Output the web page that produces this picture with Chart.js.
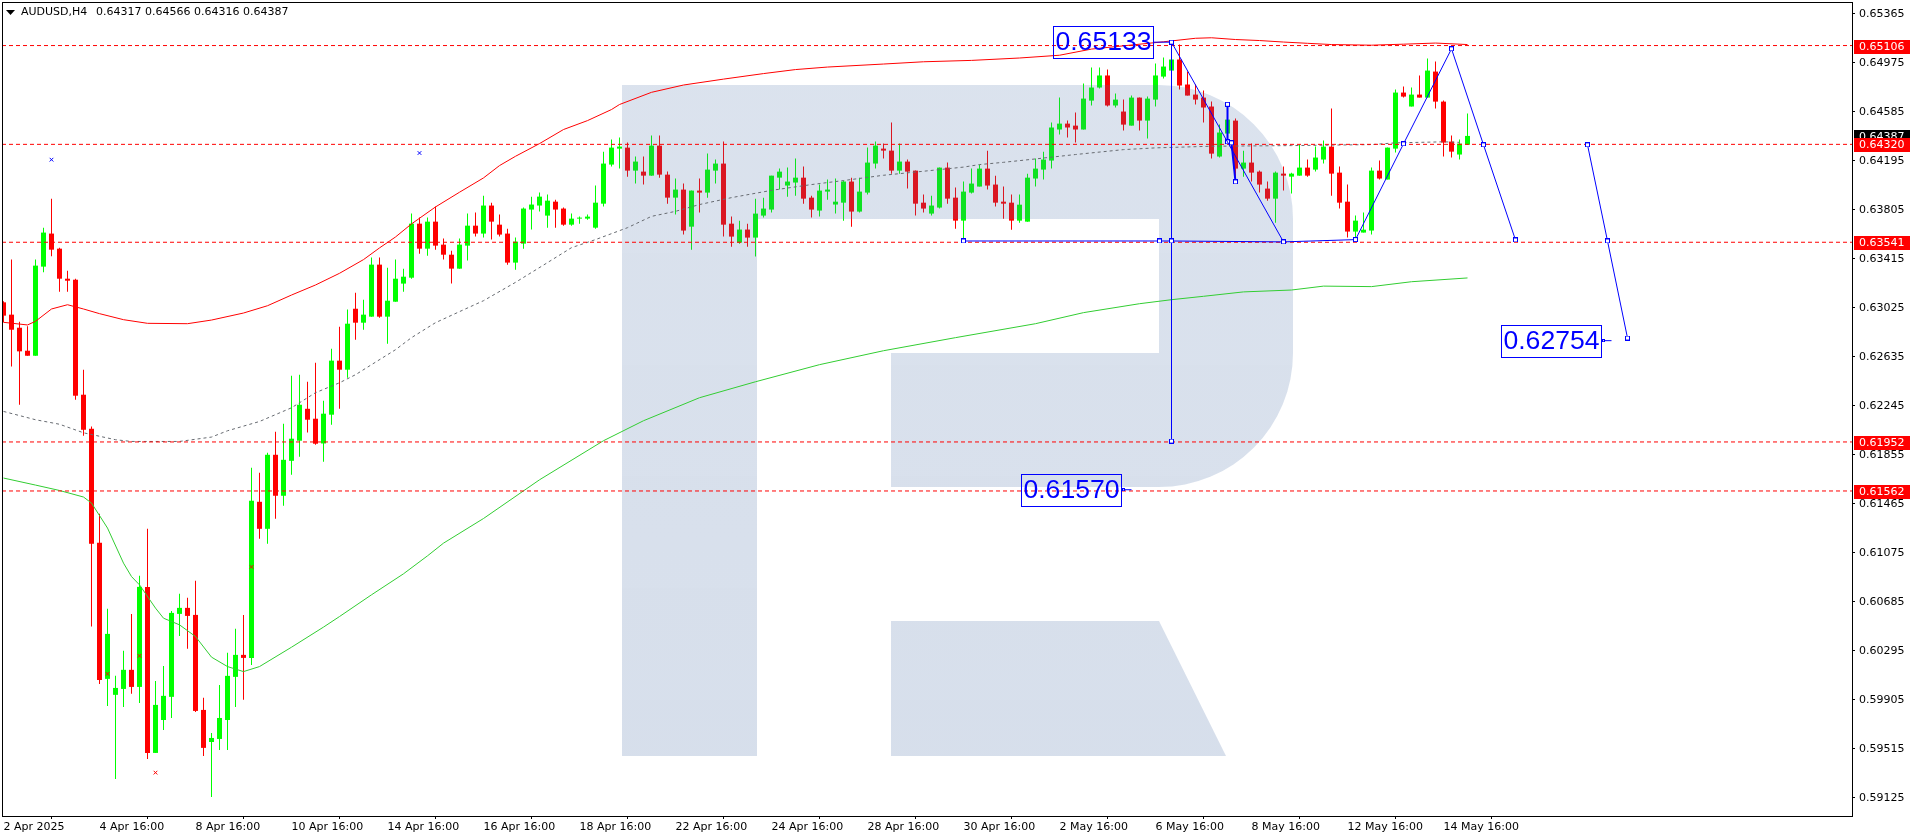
<!DOCTYPE html>
<html>
<head>
<meta charset="utf-8">
<title>AUDUSD,H4</title>
<style>
  html, body { margin: 0; padding: 0; background: #fff; overflow: hidden; }
  canvas { display: block; }
</style>
<script src="https://cdn.jsdelivr.net/npm/chart.js@4/dist/chart.umd.min.js"></script>
</head>
<body>
<canvas id="chart" width="1916" height="840"></canvas>
<script>
// all prices are in points (price * 100000), one bar every 4 hours
const opens = [
  63063,62965,62861,62678,62638,63347,63610,63490,63251,63243,
  62328,62057,61150,60067,59940,59987,60139,60003,60799,59478,
  59740,59924,60584,60632,60576,59820,59565,59589,59740,60083,
  60258,60234,61476,61261,61850,61524,61802,61962,62216,62137,
  61940,62169,62599,62527,63012,62901,62949,63363,62949,63068,
  63212,63259,63689,63490,63705,63522,63442,63331,63514,63673,
  63610,63833,63681,63610,63379,63530,63801,63833,63753,63864,
  63809,63681,63729,63729,63657,63848,64159,64286,64294,64111,
  64103,64071,64310,64079,63896,63960,63665,63952,63936,64111,
  64167,63689,63538,63642,63578,63753,63801,64055,63992,64016,
  64055,63896,63793,63944,63841,63856,64024,63785,63936,64167,
  64286,64270,64111,64183,64111,63856,63769,63817,64135,63896,
  63713,63936,63984,64127,64000,63864,63856,63713,63705,64048,
  64119,64191,64438,64485,64469,64438,64668,64772,64868,64629,
  64581,64469,64692,64509,64676,64859,64907,64995,64796,64716,
  64692,64621,64223,64406,64509,64127,64175,64103,63968,63888,
  64087,64063,64071,64135,64119,64199,64302,64095,63864,63626,
  63618,63634,64111,64040,64286,64732,64621,64716,64692,64899,
  64660,64342,64239,64317
];
const closes = [
  62957,62845,62673,62638,63355,63618,63482,63251,63235,62320,
  62049,61142,60059,60425,59995,60139,60003,60799,59478,59860,
  59932,60592,60632,60568,59812,59518,59597,59756,60091,60258,
  60234,61484,61261,61850,61524,61810,61978,62248,62129,61938,
  62177,62599,62527,62893,62901,62965,63363,62949,63076,63251,
  63267,63689,63490,63705,63514,63442,63331,63522,63673,63610,
  63833,63705,63602,63379,63546,63809,63841,63904,63872,63801,
  63681,63729,63737,63745,63856,64167,64294,64302,64111,64183,
  64071,64310,64079,63896,63960,63634,63952,63936,64119,64167,
  63681,63586,63642,63578,63769,63809,64071,64103,64024,64055,
  63888,63801,63952,63960,63864,64024,63785,63944,64175,64310,
  64270,64111,64183,64103,63848,63809,63833,64135,63888,63713,
  63944,64008,64127,63992,63856,63848,63713,63840,64055,64127,
  64199,64454,64485,64454,64438,64684,64772,64868,64629,64676,
  64477,64692,64509,64684,64868,64939,64995,64788,64708,64676,
  64613,64246,64414,64517,64127,64175,64095,64000,63888,64095,
  64071,64087,64135,64071,64215,64302,64087,63856,63626,63713,
  63641,64111,64048,64294,64732,64700,64716,64692,64907,64660,
  64334,64262,64326,64387
];
const highs = [
  63071,63403,62909,62872,63403,63657,63888,63498,63315,63251,
  62527,62076,61381,60624,60091,60290,60584,60887,61261,60051,
  60170,60608,60744,60712,60847,59916,59637,60019,60274,60465,
  60576,61747,61707,61866,62033,62097,62479,62487,62431,62583,
  62280,62694,62869,63005,63140,63084,63419,63419,63339,63403,
  63331,63769,63737,63737,63825,63570,63474,63570,63769,63777,
  63912,63856,63761,63649,63578,63817,63904,63936,63920,63880,
  63817,63769,63745,63761,63992,64262,64358,64374,64334,64223,
  64223,64390,64390,64103,64048,64008,63952,64048,64247,64199,
  64342,63745,63713,63689,63888,63896,64071,64127,64135,64207,
  64143,63912,64000,64040,64048,64032,64055,64055,64294,64342,
  64326,64493,64326,64199,64111,63920,63912,64135,64175,63976,
  64024,64127,64159,64270,64071,63984,63920,63920,64087,64207,
  64262,64493,64692,64509,64573,64804,64931,64931,64915,64724,
  64676,64708,64692,64700,64963,65011,65114,65114,64899,64796,
  64748,64660,64477,64597,64525,64270,64326,64111,64024,64103,
  64143,64095,64318,64199,64302,64350,64605,64143,64000,63753,
  63777,64135,64191,64294,64756,64780,64772,64868,65003,64979,
  64668,64390,64358,64566
];
const lows = [
  62904,62553,62248,62638,62638,63302,63429,63148,63148,62288,
  62001,60484,60027,59852,59271,59844,59948,59876,59430,59478,
  59661,59756,60409,60306,59804,59454,59128,59502,59502,59844,
  59900,60178,61181,61142,61341,61444,61691,61834,62028,61930,
  61794,62089,62216,62463,62766,62845,62949,62941,62734,63068,
  63148,63251,63450,63434,63482,63403,63212,63331,63395,63586,
  63578,63562,63586,63363,63323,63490,63642,63785,63657,63657,
  63673,63673,63689,63721,63649,63825,64143,64127,64063,64008,
  64000,64071,64055,63848,63761,63602,63482,63777,63896,64008,
  63586,63506,63530,63506,63427,63737,63777,63960,63904,63912,
  63848,63737,63745,63880,63769,63713,63665,63777,63920,64127,
  64207,64087,64087,63968,63753,63777,63753,63809,63848,63649,
  63562,63928,63984,63960,63825,63729,63641,63697,63705,63984,
  64040,64127,64398,64374,64334,64438,64629,64764,64621,64613,
  64430,64469,64430,64366,64621,64844,64907,64756,64708,64637,
  64493,64207,64215,64398,64048,64063,64024,63936,63872,63697,
  63952,63928,64071,64063,64103,64167,63912,63809,63578,63562,
  63618,63602,64040,64040,64255,64692,64621,64692,64692,64605,
  64223,64215,64199,64316
];

// moving averages, read at a bar every so often: [bar, price]
const redMa = [[0,62904],[3,62883],[4,62912],[6,63010],[8,63044],[10,63010],[12,62973],[15,62925],[18,62896],[23,62893],
  [26,62922],[30,62978],[33,63036],[36,63121],[39,63201],[42,63294],[45,63403],[47,63496],[49,63583],[51,63687],
  [54,63822],[57,63939],[60,64053],[62,64151],[64,64225],[67,64326],[70,64438],[73,64509],[76,64597],[77,64637],
  [81,64734],[85,64792],[90,64839],[95,64883],[99,64915],[103,64935],[110,64959],[115,64977],[121,64988],[127,65007],
  [132,65029],[136,65078],[140,65104],[145,65136],[149,65164],[151,65168],[154,65154],[157,65146],[160,65134],
  [163,65124],[166,65114],[171,65109],[175,65117],[179,65126],[183,65114]];
const greyMa = [[0,62195],[4,62129],[7,62093],[10,62025],[14,61970],[16,61956],[22,61956],[26,61991],[28,62041],[32,62115],
  [36,62224],[39,62344],[42,62423],[44,62487],[46,62567],[49,62686],[51,62782],[54,62901],[57,62989],[60,63076],
  [64,63222],[68,63379],[71,63498],[74,63562],[78,63657],[81,63747],[84,63787],[87,63841],[91,63896],[96,63954],
  [101,64000],[105,64032],[110,64074],[115,64106],[120,64139],[122,64159],[125,64177],[129,64204],[134,64239],
  [140,64278],[144,64292],[151,64305],[161,64310],[171,64318],[174,64332],[180,64340],[182,64336]];
const greenMa = [[0,61665],[4,61609],[7,61566],[10,61514],[11,61466],[13,61267],[15,60988],[16,60881],[17,60815],[19,60630],
  [20,60550],[22,60497],[24,60404],[26,60240],[28,60165],[30,60125],[32,60165],[36,60319],[40,60479],[42,60563],
  [46,60736],[50,60903],[53,61046],[55,61147],[60,61343],[67,61651],[75,61962],[80,62121],[87,62304],[94,62431],
  [102,62567],[110,62678],[119,62782],[129,62893],[135,62981],[142,63052],[146,63084],[150,63111],[155,63146],
  [161,63161],[165,63192],[171,63188],[176,63227],[183,63257]];

// horizontal levels and the hand drawn forecast
const levels = [65106, 64320, 63541, 61952, 61562];
const zigzag = [[146,65133],[160,63544],[169,63562],[175,64324],[181,65080],[185,64316],[189,63559]];
const forecast = [[198,64316],[200.5,63551],[203,62779]];
const baseLine = [[120,63551],[144.5,63551],[146,63551],[160,63544]];
const stick = [[146,65133],[146,61959]];
const smallStick = [[153,64639],[153,64340],[153.5,64332],[154,64021]];
const topConnector = [[143.7,65133],[146,65133]];
const labelConnectors = [
  [[200,62758],[201,62758]],
  [[140,61572],[141,61572]]
];
const blueCrosses = [[6,64198],[52,64251]];
const redCrosses = [[13,60107],[17,60250],[19,59321],[31,60958]];

const xTickBars = [0,12,24,36,48,60,72,84,96,108,120,132,144,156,168,180];
const xTickLabels = ["2 Apr 2025","4 Apr 16:00","8 Apr 16:00","10 Apr 16:00","14 Apr 16:00","16 Apr 16:00","18 Apr 16:00","22 Apr 16:00",
  "24 Apr 16:00","28 Apr 16:00","30 Apr 16:00","2 May 16:00","6 May 16:00","8 May 16:00","12 May 16:00","14 May 16:00"];
const yTicks = [65365,64975,64585,64195,63805,63415,63025,62635,62245,61855,61465,61075,60685,60295,59905,59515,59125];
const levelLabels = ["0.65106","0.64320","0.63541","0.61952","0.61562"];

const RED = "#ff0000", GREEN = "#00ff00", BLUE = "#0000ff";
const FONT = "DejaVu Sans";
const pts = arr => arr.map(p => ({ x: p[0], y: p[1] }));
const colors = opens.map((o, i) => (closes[i] >= o ? GREEN : RED));

// hollow square used for the anchors of the drawn objects
function squareMarker(size) {
  const m = document.createElement("canvas");
  m.width = m.height = size;
  const c = m.getContext("2d");
  c.fillStyle = BLUE;
  c.fillRect(0, 0, size, size);
  c.fillStyle = "#fff";
  c.fillRect(1, 1, size - 2, size - 2);
  return m;
}
const bigSquare = squareMarker(5);
const smallSquare = squareMarker(3);

function lineSet(data, color, extra) {
  return Object.assign({
    type: "line", data: pts(data), borderColor: color, borderWidth: 1,
    pointRadius: 0, tension: 0, fill: false, order: 5
  }, extra);
}

function squares(data, width) {
  return lineSet(data, BLUE, { borderWidth: width || 1, pointRadius: 3, pointStyle: bigSquare, order: 1 });
}

function crosses(data, color) {
  return lineSet(data, color, {
    showLine: false, pointRadius: 2.6, pointStyle: "crossRot",
    pointBorderColor: color, pointBorderWidth: 1, order: 2
  });
}

const xMin = -0.1875, xMax = 231.0625;

const datasets = [
  {
    type: "bar", grouped: false, barThickness: 1, inflateAmount: 0, order: 20,
    data: highs.map((h, i) => ({ x: i, y: [lows[i], h] })),
    backgroundColor: colors
  },
  {
    type: "bar", grouped: false, barThickness: 5, inflateAmount: 0, order: 19,
    data: opens.map((o, i) => ({ x: i, y: [o, closes[i]] })),
    backgroundColor: colors
  },
  lineSet(redMa, "#ff0000"),
  lineSet(greyMa, "#666a70", { borderDash: [3, 3] }),
  lineSet(greenMa, "#32cd32")
];
levels.forEach(l => datasets.push(lineSet([[xMin, l], [xMax, l]], RED, { borderDash: [4, 3], order: 4 })));
datasets.push(squares(zigzag), squares(forecast), squares(baseLine), squares(stick), squares(smallStick, 2));
datasets.push(lineSet(topConnector, BLUE, { order: 1 }));
labelConnectors.forEach(c => datasets.push(lineSet(c, BLUE, { order: 1, pointRadius: [2, 0], pointStyle: smallSquare })));
datasets.push(crosses(blueCrosses, BLUE), crosses(redCrosses, RED));

// the broker logo sits over the candles and under everything else
const watermark = {
  id: "watermark",
  afterDatasetDraw(chart, args) {
    if (args.index !== 1) return;
    const c = chart.ctx;
    const g = c.createLinearGradient(0, 85, 0, 756);
    g.addColorStop(0, "rgba(74,111,167,0.2)");
    g.addColorStop(1, "rgba(74,111,167,0.225)");
    c.save();
    c.fillStyle = g;
    c.beginPath();
    c.moveTo(622, 85);
    c.lineTo(1159, 85);
    c.arc(1159, 219, 134, -Math.PI / 2, 0);
    c.lineTo(1293, 353);
    c.arc(1159, 353, 134, 0, Math.PI / 2);
    c.lineTo(891, 487);
    c.lineTo(891, 353);
    c.lineTo(1159, 353);
    c.lineTo(1159, 219);
    c.lineTo(757, 219);
    c.lineTo(757, 756);
    c.lineTo(622, 756);
    c.closePath();
    c.moveTo(891, 621);
    c.lineTo(1159, 621);
    c.lineTo(1226, 756);
    c.lineTo(891, 756);
    c.closePath();
    c.fill();
    c.restore();
  }
};

function priceTag(c, y, text, bg) {
  c.fillStyle = bg;
  c.fillRect(1854, Math.round(y) - 6, 56, 14);
  c.fillStyle = "#fff";
  c.fillText(text, 1859, Math.round(y) + 1);
}

function boxLabel(c, text, x, y) {
  c.strokeStyle = BLUE;
  c.lineWidth = 1;
  c.strokeRect(x + 0.5, y + 0.5, 100, 32);
  c.fillStyle = BLUE;
  c.fillText(text, x + 50.5, y + 17);
}

const overlay = {
  id: "overlay",
  afterDraw(chart) {
    const c = chart.ctx, sy = chart.scales.y;
    c.save();
    // frame
    c.strokeStyle = "#000";
    c.lineWidth = 1;
    c.strokeRect(2.5, 2.5, 1850, 814);

    // symbol line
    c.fillStyle = "#000";
    c.beginPath();
    c.moveTo(6, 10); c.lineTo(15, 10); c.lineTo(10.5, 15); c.closePath();
    c.fill();
    c.font = "11px '" + FONT + "'";
    c.textBaseline = "middle";
    c.textAlign = "left";
    c.fillText("AUDUSD,H4", 21, 12.5);
    c.fillText("0.64317 0.64566 0.64316 0.64387", 96, 12.5);

    // last price first, level tags on top of it
    priceTag(c, sy.getPixelForValue(64387), "0.64387", "#000");
    levels.forEach((l, i) => priceTag(c, sy.getPixelForValue(l), levelLabels[i], RED));

    // forecast numbers
    c.font = "26.6px 'Liberation Sans'";
    c.textAlign = "center";
    boxLabel(c, "0.65133", 1053, 26);
    boxLabel(c, "0.62754", 1501, 325);
    boxLabel(c, "0.61570", 1021, 474);
    c.restore();
  }
};

new Chart(document.getElementById("chart"), {
  type: "bar",
  data: { datasets },
  plugins: [watermark, overlay],
  options: {
    responsive: false,
    animation: false,
    devicePixelRatio: 1,
    layout: { autoPadding: false, padding: { left: 2, top: 2, right: 0, bottom: 0 } },
    plugins: { legend: { display: false }, tooltip: { enabled: false }, title: { display: false } },
    scales: {
      x: {
        type: "linear", offset: false, min: xMin, max: xMax,
        // fixed plot box, labels may hang over the ends
        afterFit: s => { s.height = 24; s.paddingLeft = 0; s.paddingRight = 0; },
        afterBuildTicks: s => { s.ticks = xTickBars.map(v => ({ value: v })); },
        grid: { display: true, drawOnChartArea: false, drawTicks: true, tickLength: 3, color: "#000" },
        border: { display: false },
        ticks: {
          autoSkip: false, maxRotation: 0, minRotation: 0, align: "start", padding: 2,
          color: "#000", font: { family: FONT, size: 11 },
          callback: v => xTickLabels[xTickBars.indexOf(v)]
        }
      },
      y: {
        type: "linear", position: "right", min: 58976, max: 65452.6,
        afterFit: s => { s.width = 64; s.paddingTop = 0; s.paddingBottom = 0; },
        afterBuildTicks: s => { s.ticks = yTicks.map(v => ({ value: v })); },
        grid: { display: true, drawOnChartArea: false, drawTicks: true, tickLength: 3, color: "#000" },
        border: { display: false },
        ticks: {
          autoSkip: false, padding: 4, labelOffset: 1, color: "#000", font: { family: FONT, size: 11 },
          callback: v => (v / 100000).toFixed(5)
        }
      }
    }
  }
});
</script>
</body>
</html>
